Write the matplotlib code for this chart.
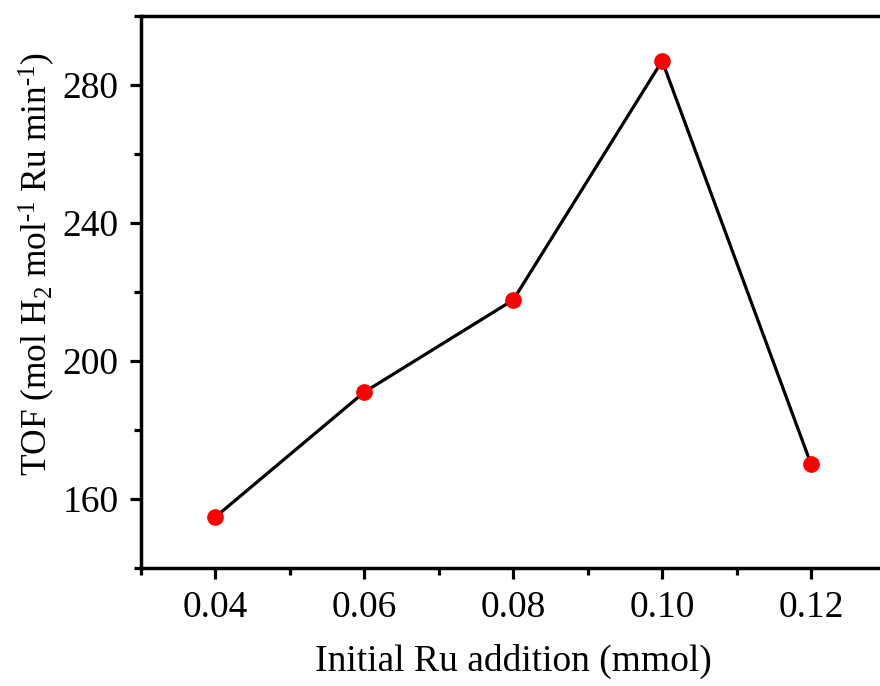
import matplotlib
matplotlib.use("Agg")
import matplotlib.pyplot as plt
from matplotlib.ticker import MultipleLocator

plt.rcParams['font.family'] = ['Liberation Serif', 'DejaVu Serif']
plt.rcParams['mathtext.fontset'] = 'custom'
plt.rcParams['mathtext.rm'] = 'Liberation Serif'
plt.rcParams['mathtext.default'] = 'regular'

ru_addition = [0.04, 0.06, 0.08, 0.10, 0.12]
tof = [154.8, 191.0, 217.7, 287.0, 170.1]
x_ticks = [0.04, 0.06, 0.08, 0.10, 0.12]
y_ticks = [160, 200, 240, 280]

fig = plt.figure(figsize=(8.8, 6.86), dpi=100)
ax = fig.add_axes([141/880, 1-568/686, (885.5-141)/880, (568-16)/686])

ax.plot(ru_addition, tof, color='black', lw=2.3, zorder=2)
ax.plot(ru_addition, tof, 'o', color='#ff0000', ms=11, mec='#ff0000', zorder=3)

ax.set_xlim(0.03, 0.13)
ax.set_ylim(140, 300)
ax.set_xticks(x_ticks)
ax.set_xticklabels(['%.2f' % v for v in x_ticks])
ax.set_yticks(y_ticks)
ax.xaxis.set_minor_locator(MultipleLocator(0.01))
ax.yaxis.set_minor_locator(MultipleLocator(20))

for s in ['left', 'bottom', 'top']:
    ax.spines[s].set_linewidth(2.5)
ax.spines['right'].set_visible(False)

ax.tick_params(which='major', direction='out', length=8, width=2.3, labelsize=27, pad=8)
ax.tick_params(which='minor', direction='out', length=5, width=2.3)
ax.tick_params(top=False, right=False, which='both')

ax.set_xlabel('Initial Ru addition (mmol)', fontsize=27, labelpad=14)
ax.set_ylabel('TOF (mol H$_2$ mol$^{\u20101}$ Ru min$^{\u20101}$)', fontsize=25.5)
ax.yaxis.set_label_coords(-0.113, 0.55)

fig.savefig('out.png', dpi=100)
